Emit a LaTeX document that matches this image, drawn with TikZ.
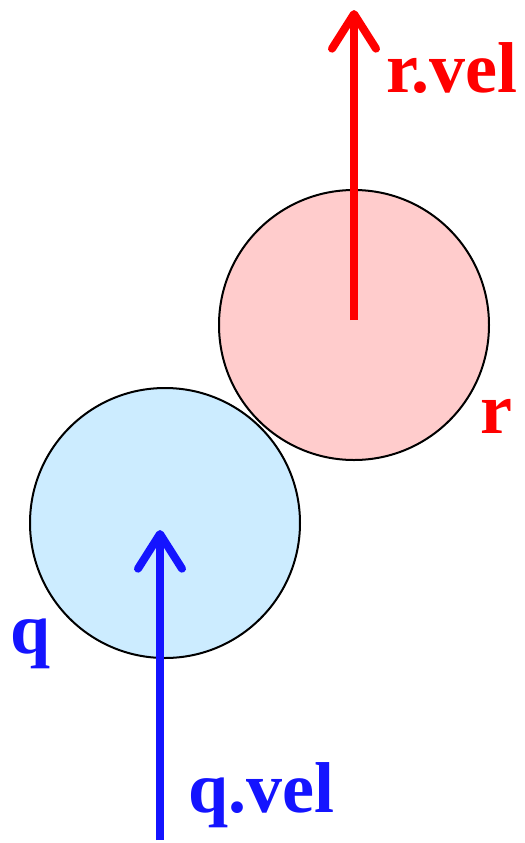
\documentclass[tikz,border=0pt]{standalone}
\usepackage{fontspec}
\setmainfont{Liberation Serif}
\usepackage{xcolor}
\usepackage{tikz}
\usetikzlibrary{positioning, arrows.meta, calc}

\definecolor{ballred}{RGB}{255,0,0}
\definecolor{ballblue}{RGB}{20,20,255}
\definecolor{fillred}{RGB}{255,204,204}
\definecolor{fillblue}{RGB}{204,236,255}

\tikzset{
    ball/.style={draw=black, line width=1.5pt, circle, minimum size=202.5pt, inner sep=0pt},
    vel/.style={line width=6pt, -{Straight Barb[length=26pt, width=33pt, line cap=round, line join=round]}},
    lbl/.style={font=\bfseries\fontsize{54}{54}\selectfont, inner sep=0pt, anchor=base west}
}

\begin{document}
\begin{tikzpicture}[x=0.75pt, y=-0.75pt]
        \useasboundingbox (0,0) rectangle (525,843);
        % Balls
        \node[ball, fill=fillred] (r) at (354,325) {};
        \node[ball, fill=fillblue] (q) at (165,523) {};
        % Velocities
        \coordinate (rstart) at (354,320);
        \coordinate (rtip) at (354,10);
        \coordinate (qstart) at (160,840);
        \coordinate (qtip) at (160,530);
        \draw[vel, ballred] (rstart) -- (rtip);
        \draw[vel, ballblue] (qstart) -- (qtip);
        % Labels
        \node[lbl, text=ballred] (rvel) at (386,92) {r.vel};
        \node[lbl, text=ballred] (rname) at (480,433) {r};
        \node[lbl, text=ballblue] (qname) at (10,653) {q};
        \node[lbl, text=ballblue] (qvel) at (188,812) {q.vel};
    \end{tikzpicture}
\end{document}
